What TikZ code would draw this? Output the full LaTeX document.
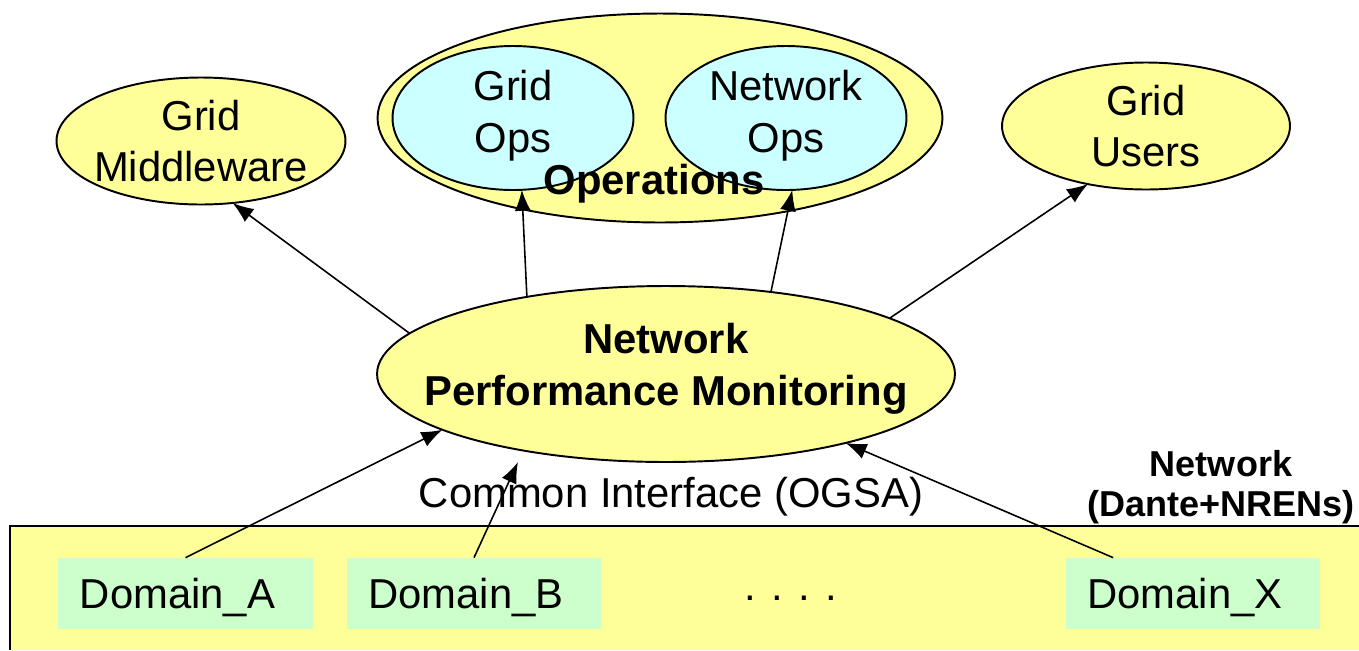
\documentclass[tikz,border=0pt]{standalone}
\usepackage{fontspec}
\setmainfont{Liberation Sans}
\usepackage{xcolor}
\usetikzlibrary{arrows.meta}
\usetikzlibrary{shapes.geometric}
\definecolor{paleyellow}{HTML}{FFFF99}
\definecolor{palecyan}{HTML}{CCFFFF}
\definecolor{palegreen}{HTML}{CCFFCC}
\newcommand{\bigtext}{\fontsize{23.8}{29.5}\selectfont}
\newcommand{\smalltext}{\fontsize{20.5}{22.7}\selectfont}

\begin{document}
\begin{tikzpicture}[x=0.02cm, y=-0.02cm,
		oval/.style={ellipse, draw, line width=1.1pt, inner sep=0pt, outer sep=0pt},
		ovaltext/.style={align=center, font=\bigtext},
		domainbox/.style={fill=palegreen, minimum width=5.1cm, minimum height=1.42cm, inner sep=0pt, text depth=0pt, font=\bigtext},
		arr/.style={-{Latex[length=0.42cm, width=0.32cm]}, line width=0.9pt}]
			\useasboundingbox (0,0) rectangle (1359,650);
			% network band
			\fill[paleyellow] (10,526) rectangle (1359,650);
			\draw[line width=1.1pt] (1359,526) -- (10,526) -- (10,650);
			\node[align=center, font=\smalltext\bfseries] (net) at (1221,487) {Network\\(Dante+NRENs)};
			\node[domainbox] (da) at (185.5,593.5) {Domain\_A\kern0.32cm};
			\node[domainbox] (db) at (474,593.5) {Domain\_B\kern0.32cm};
			\node[domainbox] (dx) at (1193,593.5) {Domain\_X\kern0.32cm};
			\node[font=\bigtext] (dots) at (791,598) {. . . .};
			\node[font=\bigtext] (ci) at (671,497) {Common Interface (OGSA)};
			% monitoring
			\node[oval, fill=paleyellow, minimum width=11.56cm, minimum height=3.52cm,
				label={[ovaltext, font=\bigtext\bfseries, yshift=0.1cm]center:Network\\Performance Monitoring}] (npm) at (666,374) {};
			% users of the monitoring
			\node[oval, fill=paleyellow, minimum width=5.78cm, minimum height=2.54cm,
				label={[ovaltext]center:Grid\\Middleware}] (gm) at (201,141) {};
			\node[oval, fill=paleyellow, minimum width=5.76cm, minimum height=2.54cm,
				label={[ovaltext]center:Grid\\Users}] (gu) at (1146,126) {};
			\node[oval, fill=paleyellow, minimum width=11.3cm, minimum height=4.18cm] (ops) at (660,118) {};
			\node[oval, fill=palecyan, minimum width=4.82cm, minimum height=2.88cm,
				label={[ovaltext, yshift=0.04cm]center:Grid\\Ops}] (gops) at (513,118) {};
			\node[oval, fill=palecyan, minimum width=4.82cm, minimum height=2.88cm,
				label={[ovaltext, yshift=0.04cm]center:Network\\Ops}] (nops) at (786,118) {};
			\node[font=\bigtext\bfseries] (opslabel) at (654,184) {Operations};
			% arrows
			\draw[arr] (npm.171) -- (gm.-63);
			\draw[arr] (npm.151) -- (gops.-83);
			\draw[arr] (npm.38) -- (nops.-85);
			\draw[arr] (npm.14) -- (gu.-135);
			\coordinate (tipb) at (518,462);
			\draw[arr] (da.north) -- (npm.194);
			\draw[arr] (db.north) -- (tipb);
			\draw[arr] ([xshift=0.96cm]dx.north west) -- (npm.-21);
		\end{tikzpicture}
\end{document}
